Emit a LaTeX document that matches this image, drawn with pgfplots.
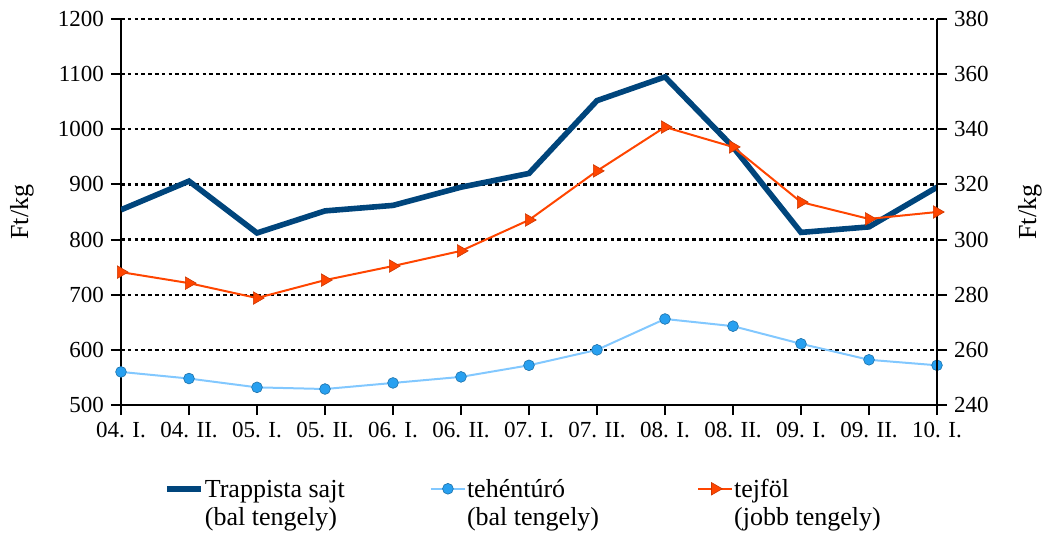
\documentclass[border=0pt]{standalone}
\usepackage{fontspec}
\setmainfont{Liberation Serif}
\usepackage{pgfplots}
\pgfplotsset{compat=1.18}

\definecolor{trapblue}{RGB}{0,69,124}
\definecolor{turoline}{RGB}{130,200,255}
\definecolor{turomark}{RGB}{40,160,240}
\definecolor{tejred}{RGB}{255,69,0}

\pgfplotsset{
  every axis/.append style={
    scale only axis, width=408pt, height=193pt,
    xmin=0, xmax=12,
    tick style={black, line width=1pt},
    axis line style={-, line width=1.1pt},
    tick align=outside,
    major tick length=5pt,
    ticklabel style={font=\rmfamily\fontsize{11.5}{13}\selectfont},
    label style={font=\rmfamily\fontsize{13}{15}\selectfont},
  },
  trap/.style={trapblue, line width=2.8pt, mark=none},
  turo/.style={turoline, line width=1pt, mark=*, mark size=2.7pt,
    mark options={fill=turomark, draw=turomark!70!black, line width=0.3pt}},
  tej/.style={tejred, line width=1pt, mark=triangle*, mark size=3.6pt,
    mark options={rotate=-90, fill=tejred, draw=tejred!80!black, line width=0.3pt}},
}

\begin{document}
\begin{tikzpicture}
\begin{axis}[
  axis y line*=left, axis x line*=bottom,
  ymin=500, ymax=1200, ytick={500,600,...,1200},
  yticklabels={500,600,700,800,900,1000,1100,1200},
  xtick={0,...,12},
  xticklabels={04. I., 04. II., 05. I., 05. II., 06. I., 06. II., 07. I., 07. II., 08. I., 08. II., 09. I., 09. II., 10. I.},
  ymajorgrids,
  grid style={black, line width=1.2pt, dash pattern=on 1.8pt off 1.6pt},
  ylabel={Ft/kg},
  ylabel style={at={([xshift=-49.5pt]rel axis cs:0,0.5)}, anchor=center},
]
% Trappista sajt (bal tengely)
\addplot[trap] coordinates {
  (0,854) (1,906) (2,812) (3,852) (4,862) (5,895) (6,920)
  (7,1052) (8,1095) (9,968) (10,813) (11,823) (12,895)
};
% tehentúró (bal tengely)
\addplot[turo] coordinates {
  (0,560) (1,548) (2,532) (3,529) (4,540) (5,551) (6,572)
  (7,600) (8,656) (9,643) (10,611) (11,582) (12,572)
};
\end{axis}
\begin{axis}[
  axis y line*=right, axis x line=none,
  ymin=240, ymax=380, ytick={240,260,...,380},
  yticklabels={240,260,280,300,320,340,360,380},
  ylabel={Ft/kg},
  ylabel style={at={([xshift=46.5pt]rel axis cs:1,0.5)}, anchor=center},
  legend columns=3,
  legend cell align=left,
  legend style={draw=none, fill=none, at={(0.045,-0.166)}, anchor=north west,
    font=\rmfamily\fontsize{13}{14}\selectfont,
    /tikz/every odd column/.append style={column sep=-1.5pt},
    /tikz/every even column/.append style={column sep=4pt}},
]
\addlegendimage{trap}
\addlegendentry{\begin{tabular}[t]{@{}p{106.5pt}@{}}Trappista sajt\\(bal tengely)\end{tabular}}
\addlegendimage{turo}
\addlegendentry{\begin{tabular}[t]{@{}p{109pt}@{}}tehéntúró\\(bal tengely)\end{tabular}}
% tejföl (jobb tengely)
\addplot[tej] coordinates {
  (0,288.2) (1,284.2) (2,278.8) (3,285.3) (4,290.4) (5,295.9) (6,307.1)
  (7,324.9) (8,340.8) (9,333.6) (10,313.6) (11,307.5) (12,310)
};
\addlegendentry{\begin{tabular}[t]{@{}l@{}}tejföl\\(jobb tengely)\end{tabular}}
\end{axis}
\pgfresetboundingbox
\path (-60.5pt,-63.5pt) rectangle (464.5pt,202.5pt);
\end{tikzpicture}
\end{document}
